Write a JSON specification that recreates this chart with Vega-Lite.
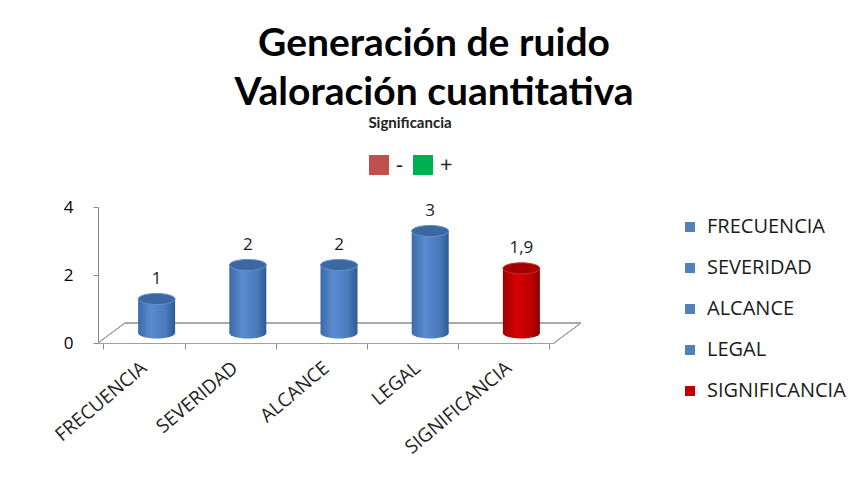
{
  "$schema": "https://vega.github.io/schema/vega-lite/v6.json",
  "width": 456,
  "height": 136,
  "autosize": "none",
  "padding": {"left": 98, "top": 207, "right": 308, "bottom": 134},
  "background": "white",
  "title": {
    "text": ["Generación de ruido", "Valoración cuantitativa"],
    "font": "Lato",
    "fontSize": 39,
    "fontWeight": "bold",
    "color": "#000000",
    "lineHeight": 49,
    "anchor": "middle",
    "frame": "group",
    "dx": 108,
    "dy": -3,
    "offset": 0
  },
  "data": {
    "values": [
      {"cat": "FRECUENCIA", "v": 1},
      {"cat": "SEVERIDAD", "v": 2},
      {"cat": "ALCANCE", "v": 2},
      {"cat": "LEGAL", "v": 3},
      {"cat": "SIGNIFICANCIA", "v": 1.9}
    ]
  },
  "encoding": {
    "x": {
      "field": "cat",
      "type": "nominal",
      "sort": null,
      "title": null,
      "axis": {
        "labelAngle": -40,
        "labelAlign": "right",
        "labelBaseline": "middle",
        "labelFont": "Open Sans",
        "labelFontSize": 19,
        "labelColor": "#222222",
        "labelPadding": 16,
        "tickBand": "extent",
        "tickSize": 6,
        "tickColor": "#8c8c8c",
        "domainColor": "#a0a0a0"
      }
    }
  },
  "layer": [
    {
      "mark": {"type": "rule", "color": "#a6a6a6", "strokeWidth": 1, "xOffset": 27, "x2Offset": 27, "yOffset": -20, "y2Offset": -20},
      "encoding": {"x": {"value": 0}, "x2": {"value": {"expr": "width"}}, "y": {"datum": 0, "type": "quantitative"}, "y2": {"datum": 0}}
    },
    {
      "mark": {"type": "rule", "color": "#a6a6a6", "strokeWidth": 1, "x2Offset": 27, "y2Offset": -20},
      "encoding": {"x": {"value": 0}, "x2": {"value": 0}, "y": {"datum": 0, "type": "quantitative"}, "y2": {"datum": 0}}
    },
    {
      "mark": {"type": "rule", "color": "#a6a6a6", "strokeWidth": 1, "x2Offset": 27, "y2Offset": -20},
      "encoding": {"x": {"value": {"expr": "width"}}, "x2": {"value": {"expr": "width"}}, "y": {"datum": 0, "type": "quantitative"}, "y2": {"datum": 0}}
    },
    {
      "mark": {"type": "bar", "width": 37, "xOffset": 13, "yOffset": -10},
      "encoding": {
        "y": {
          "field": "v",
          "type": "quantitative",
          "title": null,
          "scale": {"domain": [0, 4], "nice": false},
          "axis": {
            "values": [0, 2, 4],
            "grid": false,
            "labelFont": "Open Sans",
            "labelFontSize": 17,
            "labelColor": "#000000",
            "labelPadding": 20,
            "tickSize": 5,
            "tickColor": "#8c8c8c",
            "domainColor": "#8c8c8c"
          }
        },
        "fill": {
          "condition": {
            "test": "datum.cat === 'SIGNIFICANCIA'",
            "value": {"gradient": "linear", "x1": 0, "x2": 1, "y1": 0, "y2": 0,
              "stops": [{"offset": 0, "color": "#a00000"}, {"offset": 0.35, "color": "#d40000"}, {"offset": 0.75, "color": "#c00000"}, {"offset": 1, "color": "#8c0000"}]}
          },
          "value": {"gradient": "linear", "x1": 0, "x2": 1, "y1": 0, "y2": 0,
            "stops": [{"offset": 0, "color": "#3c6aa8"}, {"offset": 0.35, "color": "#5b8bd0"}, {"offset": 0.75, "color": "#4a7abb"}, {"offset": 1, "color": "#2d5a94"}]}
        }
      }
    },
    {
      "mark": {"type": "point", "shape": "M-1,0A1,0.3,0,1,0,1,0A1,0.3,0,1,0,-1,0Z", "size": 1369, "filled": true, "opacity": 1, "strokeWidth": 0, "xOffset": 13, "yOffset": -10},
      "encoding": {
        "y": {"datum": 0, "type": "quantitative"},
        "fill": {
          "condition": {
            "test": "datum.cat === 'SIGNIFICANCIA'",
            "value": {"gradient": "linear", "x1": 0, "x2": 1, "y1": 0, "y2": 0,
              "stops": [{"offset": 0, "color": "#a00000"}, {"offset": 0.35, "color": "#d40000"}, {"offset": 0.75, "color": "#c00000"}, {"offset": 1, "color": "#8c0000"}]}
          },
          "value": {"gradient": "linear", "x1": 0, "x2": 1, "y1": 0, "y2": 0,
            "stops": [{"offset": 0, "color": "#3c6aa8"}, {"offset": 0.35, "color": "#5b8bd0"}, {"offset": 0.75, "color": "#4a7abb"}, {"offset": 1, "color": "#2d5a94"}]}
        }
      }
    },
    {
      "mark": {"type": "point", "shape": "M-1,0A1,0.3,0,1,0,1,0A1,0.3,0,1,0,-1,0Z", "size": 1369, "filled": true, "opacity": 1, "strokeWidth": 1, "xOffset": 13, "yOffset": -10},
      "encoding": {
        "y": {"field": "v", "type": "quantitative"},
        "fill": {
          "condition": {"test": "datum.cat === 'SIGNIFICANCIA'", "value": "#a50000"},
          "value": "#3b67a3"
        },
        "stroke": {
          "condition": {"test": "datum.cat === 'SIGNIFICANCIA'", "value": "#cc2a2a"},
          "value": "#6391cf"
        }
      }
    },
    {
      "mark": {"type": "text", "font": "Open Sans", "fontSize": 17, "color": "#1a1a1a", "dy": -20, "xOffset": 13, "yOffset": -10},
      "encoding": {
        "y": {"field": "v", "type": "quantitative"},
        "text": {"field": "v", "type": "quantitative", "format": "~g"}
      }
    },
    {
      "mark": {"type": "point", "opacity": 0, "filled": true},
      "encoding": {
        "y": {"field": "v", "type": "quantitative"},
        "color": {
          "field": "cat",
          "type": "nominal",
          "scale": {
            "domain": ["FRECUENCIA", "SEVERIDAD", "ALCANCE", "LEGAL", "SIGNIFICANCIA"],
            "range": ["#4f81bd", "#4f81bd", "#4f81bd", "#4f81bd", "#c00000"]
          },
          "legend": {
            "orient": "none",
            "legendX": 582,
            "legendY": 10,
            "title": null,
            "symbolType": "square",
            "symbolSize": 100,
            "symbolOpacity": 1,
            "symbolStrokeWidth": 0,
            "labelFont": "Open Sans",
            "labelFontSize": 20,
            "labelColor": "#1a1a1a",
            "labelOffset": 7,
            "rowPadding": 21
          }
        }
      }
    },
    {
      "data": {"values": [{"s": "-"}, {"s": "+"}]},
      "mark": {"type": "square", "opacity": 0},
      "encoding": {
        "x": null,
        "fill": {
          "field": "s",
          "type": "nominal",
          "scale": {"domain": ["-", "+"], "range": ["#c0504d", "#00b050"]},
          "legend": {
            "orient": "none",
            "legendX": 270,
            "legendY": -91,
            "direction": "horizontal",
            "title": "Significancia",
            "titleFont": "Lato",
            "titleFontSize": 15,
            "titleFontWeight": "bold",
            "titleColor": "#222222",
            "titleAnchor": "middle",
            "titlePadding": 23,
            "symbolType": "square",
            "symbolSize": 400,
            "symbolOpacity": 1,
            "symbolStrokeWidth": 0,
            "labelFont": "Open Sans",
            "labelFontSize": 22,
            "labelColor": "#222222",
            "labelOffset": 6,
            "columnPadding": 8
          }
        }
      }
    }
  ],
  "config": {
    "view": {"stroke": null},
    "locale": {"number": {"decimal": ",", "thousands": ".", "grouping": [3], "currency": ["", " €"]}}
  }
}
